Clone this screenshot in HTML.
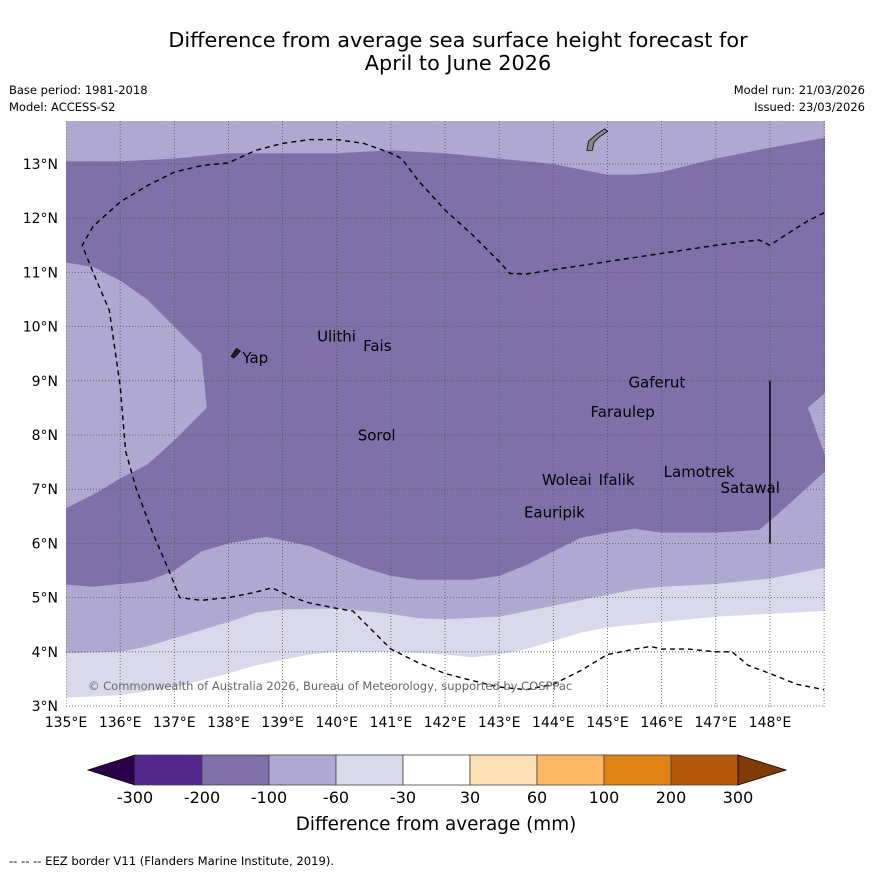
<!DOCTYPE html>
<html><head><meta charset="utf-8">
<style>
html,body{margin:0;padding:0;background:#fff;}
body{width:873px;height:873px;overflow:hidden;font-family:"Liberation Sans","DejaVu Sans",sans-serif;}
</style></head>
<body>
<svg id="chart" width="873" height="873" viewBox="0 0 873 873" xmlns="http://www.w3.org/2000/svg" font-family="DejaVu Sans, Liberation Sans, sans-serif">
<text x="458" y="47" font-size="20.8" text-anchor="middle">Difference from average sea surface height forecast for</text>
<text x="458" y="70" font-size="20.8" text-anchor="middle">April to June 2026</text>
<text x="9" y="94" font-size="11.5">Base period: 1981-2018</text>
<text x="9" y="111" font-size="11.5">Model: ACCESS-S2</text>
<text x="865" y="94" font-size="11.5" text-anchor="end">Model run: 21/03/2026</text>
<text x="865" y="111" font-size="11.5" text-anchor="end">Issued: 23/03/2026</text>
<defs><clipPath id="mapclip"><rect x="66" y="121" width="759" height="586"/></clipPath></defs>
<g id="map" clip-path="url(#mapclip)"></g>
<g id="axes"></g>
<g id="cbar"></g>
<text x="436" y="830" font-size="18.4" text-anchor="middle">Difference from average (mm)</text>
<text x="9" y="865" font-size="11.6">--  --  -- EEZ border V11 (Flanders Marine Institute, 2019).</text>
</svg>
<script>
// ---- data ----
const lonTicks=[135,136,137,138,139,140,141,142,143,144,145,146,147,148];
const latTicks=[3,4,5,6,7,8,9,10,11,12,13];
const levelLabels=["-300","-200","-100","-60","-30","30","60","100","200","300"];
const levelColors=["#54278f","#7f70aa","#afa8d0","#d9d9eb","#ffffff","#fee0b6","#fdb863","#e08214","#b35806"];
const darkBand=[[135,13.05],[136,13.05],[137,13.1],[138,13.2],[139,13.2],[140,13.2],[141,13.25],[142,13.2],[143,13.1],[144,13.0],[145,12.8],[145.5,12.8],[146,12.85],[147,13.1],[148,13.3],[149.1,13.5],[149.1,8.85],[148.7,8.5],[149.1,7.4],[148.1,6.5],[147.8,6.25],[147,6.2],[146,6.2],[145.5,6.27],[145,6.2],[144.5,6.1],[144,5.85],[143.5,5.6],[143,5.4],[142.5,5.33],[141.5,5.33],[141,5.4],[140.5,5.55],[140,5.75],[139.5,5.95],[138.7,6.12],[138,6.0],[137.5,5.85],[137,5.5],[136.5,5.3],[135.5,5.2],[134.9,5.25],[134.9,6.6],[135.5,6.9],[136,7.2],[136.5,7.45],[137,7.9],[137.6,8.5],[137.5,9.5],[137,10.0],[136.5,10.5],[136,10.85],[135.5,11.1],[134.9,11.2]];
const lightBand=[[134.9,3.97],[136,4.0],[136.5,4.1],[137,4.25],[137.5,4.4],[138,4.55],[138.5,4.72],[139,4.78],[140,4.8],[141,4.7],[141.5,4.62],[142,4.6],[143,4.65],[143.5,4.75],[144,4.85],[144.5,4.95],[145,5.05],[145.5,5.15],[146,5.2],[147,5.25],[148,5.35],[149.1,5.57],[149.1,2.5],[134.9,2.5]];
const whiteBand=[[134.9,3.15],[136,3.2],[137,3.35],[138,3.6],[138.5,3.75],[139,3.85],[139.5,3.95],[140,4.0],[141,4.0],[142,3.95],[142.5,3.9],[143,3.95],[143.5,4.05],[144,4.2],[144.5,4.35],[145,4.45],[146,4.55],[147,4.65],[148,4.7],[149.1,4.76],[149.1,2.5],[134.9,2.5]];
const eezLine=[[149,12.1],[148.7,11.95],[148.3,11.7],[148,11.5],[147.9,11.55],[147.8,11.6],[147,11.5],[146,11.35],[145,11.2],[144,11.05],[143.5,10.97],[143.2,10.98],[143,11.2],[142.5,11.7],[142,12.15],[141.5,12.7],[141.2,13.1],[141,13.2],[140.5,13.38],[140,13.45],[139.5,13.45],[139,13.38],[138.5,13.25],[138,13.02],[137.5,12.97],[137,12.85],[136.5,12.6],[136,12.3],[135.5,11.85],[135.3,11.5],[135.5,11.0],[135.8,10.3],[136,8.9],[136.1,7.7],[136.3,7.0],[136.6,6.2],[136.9,5.5],[137.1,5.0],[137.5,4.95],[138,5.0],[138.5,5.1],[138.8,5.18],[139.2,5.0],[139.5,4.9],[140,4.8],[140.3,4.75],[140.5,4.55],[141,4.05],[141.5,3.8],[142,3.6],[142.5,3.47],[143,3.35],[143.5,3.3],[144,3.4],[144.5,3.65],[145,3.95],[145.5,4.05],[145.8,4.1],[146,4.05],[146.5,4.05],[147,4.0],[147.3,4.0],[147.6,3.75],[148,3.6],[148.5,3.4],[149,3.3]];
const islandNames=["Yap","Ulithi","Fais","Sorol","Gaferut","Faraulep","Woleai","Ifalik","Eauripik","Lamotrek","Satawal"];
const islandLons=[138.22,139.6,140.45,140.35,145.35,144.65,143.75,144.8,143.42,146.0,147.05];
const islandLats=[9.55,9.95,9.77,8.12,9.1,8.55,7.3,7.3,6.7,7.45,7.15];
// ---- axes ----
const X=lon=>66+(lon-135)*54.15;
const Y=lat=>706-(lat-3)*54.2;
const NS="http://www.w3.org/2000/svg";
function mk(tag,attrs,parent){const e=document.createElementNS(NS,tag);for(const k in attrs)e.setAttribute(k,attrs[k]);parent.appendChild(e);return e;}
const map=document.getElementById('map');
const pts=a=>a.map(p=>X(p[0]).toFixed(1)+','+Y(p[1]).toFixed(1)).join(' ');
let bg=mk('rect',{x:66,y:121,width:759,height:586,fill:levelColors[2]},map);


let d=mk('polygon',{points:pts(darkBand),fill:levelColors[1]},map);


let l=mk('polygon',{points:pts(lightBand),fill:levelColors[3]},map);


let w=mk('polygon',{points:pts(whiteBand),fill:levelColors[4]},map);


// grid
lonTicks.concat([149]).forEach(v=>{let g=mk('line',{x1:X(v),x2:X(v),y1:121,y2:707,stroke:'#555','stroke-width':0.8,'stroke-dasharray':'1,2'},map);

});
latTicks.forEach(v=>{let g=mk('line',{x1:66,x2:825,y1:Y(v),y2:Y(v),stroke:'#555','stroke-width':0.8,'stroke-dasharray':'1,2'},map);

});
let e=mk('polyline',{points:pts(eezLine),fill:'none',stroke:'#000','stroke-width':1.4,'stroke-dasharray':'5,4'},map);


let vl=mk('line',{x1:X(148),x2:X(148),y1:Y(9),y2:Y(6),stroke:'#000','stroke-width':1.5},map);


let guam=mk('polygon',{points:pts([[144.95,13.65],[145.0,13.6],[144.85,13.5],[144.75,13.4],[144.72,13.25],[144.62,13.25],[144.65,13.42],[144.8,13.55]]),fill:'#888',stroke:'#000','stroke-width':0.8},map);


let yap=mk('polygon',{points:pts([[138.05,9.45],[138.15,9.6],[138.22,9.55],[138.1,9.42]]),fill:'#222',stroke:'#000','stroke-width':0.8},map);


islandNames.forEach((n,i)=>{
  let t=mk('text',{x:X(islandLons[i])+2,y:Y(islandLats[i])+12,'font-size':15,fill:'#000'},map);
  t.textContent=n;
  
  
});
let cp=mk('text',{x:88,y:690,'font-size':11.5,fill:'#666'},map);
cp.textContent='© Commonwealth of Australia 2026, Bureau of Meteorology, supported by COSPPac';


// ticks
const axes=document.getElementById('axes');
lonTicks.forEach(v=>{let t=mk('text',{x:X(v),y:727,'font-size':14,'text-anchor':'middle'},axes);t.textContent=v+'°E';

});
latTicks.forEach(v=>{let t=mk('text',{x:58,y:Y(v)+5,'font-size':14,'text-anchor':'end'},axes);t.textContent=v+'°N';

});
// colorbar
const cb=document.getElementById('cbar');
const cx0=135,cw=67.0,cy=755,ch=30;
let lt=mk('polygon',{points:`88,770 ${cx0},${cy} ${cx0},${cy+ch}`,fill:'#2d004b',stroke:'#000','stroke-width':0.8},cb);


levelColors.forEach((c,i)=>{let r=mk('rect',{x:cx0+i*cw,y:cy,width:cw,height:ch,fill:c,stroke:'#444','stroke-width':0.8},cb);

});
const xe=cx0+levelColors.length*cw;
let rt=mk('polygon',{points:`${xe},${cy} 786,770 ${xe},${cy+ch}`,fill:'#7f3b08',stroke:'#000','stroke-width':0.8},cb);


levelLabels.forEach((s,i)=>{let t=mk('text',{x:cx0+i*cw,y:803,'font-size':16,'text-anchor':'middle'},cb);t.textContent=s;

});
</script>
</body></html>
